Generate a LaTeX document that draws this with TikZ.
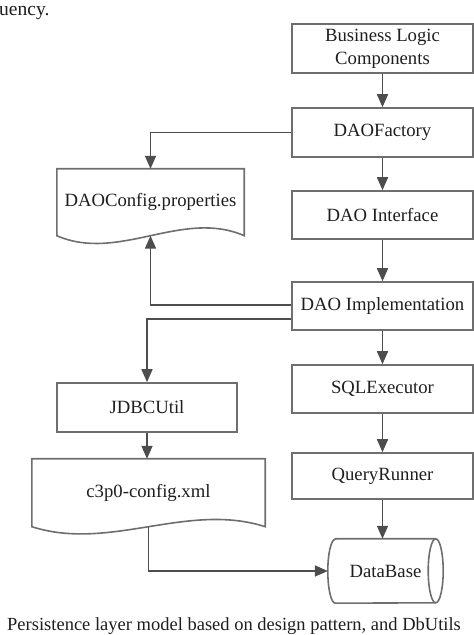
\documentclass[tikz,border=0pt]{standalone}
\usepackage{fontspec}
\setmainfont{LiberationSerif}[Extension=.ttf, UprightFont=*-Regular, BoldFont=*-Bold, ItalicFont=*-Italic]
\usetikzlibrary{arrows.meta}
\definecolor{boxline}{HTML}{6E6E6E}
\definecolor{arrowc}{HTML}{4D4D4D}
\definecolor{txt}{HTML}{1E1E1E}
\tikzset{
  box/.style={draw=boxline, line width=1.6pt, rectangle, minimum width=181pt, minimum height=48pt, inner sep=0pt, align=center, text=txt, font=\rmfamily\fontsize{18.7}{23}\selectfont},
  docnode/.style={rectangle, inner sep=0pt, align=center, text=txt, font=\rmfamily\fontsize{18.7}{23}\selectfont},
  outline/.style={draw=boxline, line width=1.6pt, line join=miter},
  conn/.style={draw=arrowc, line width=1.6pt, -{Triangle[length=13pt,width=11pt]}},
  plaintext/.style={inner sep=0pt, text=txt}
}
\begin{document}
\begin{tikzpicture}[x=1pt,y=1pt]
\useasboundingbox (0,0) rectangle (474,635);
% stray text of the surrounding page
\node[plaintext, anchor=base west, font=\rmfamily\fontsize{19.5}{22}\selectfont] (top) at (-1,619) {uency.};
\node[plaintext, anchor=base west, font=\rmfamily\fontsize{18.5}{22}\selectfont] (cap) at (7,5) {Persistence layer model based on design pattern, and DbUtils};
% right column
\node[box, minimum height=49pt] (biz) at (382.5,586.5) {Business Logic\\Components};
\node[box, minimum height=49pt] (fac) at (382.5,502.5) {DAOFactory};
\node[box] (intf) at (382.5,420) {DAO Interface};
\node[box] (impl) at (382.5,329) {DAO Implementation};
\node[box] (sql) at (382.5,246) {SQLExecutor};
\node[box, minimum height=46pt] (qr) at (382.5,159) {QueryRunner};
% database cylinder
\node[docnode, minimum width=115pt, minimum height=64pt] (db) at (385.5,64) {DataBase};
\draw[outline] ([xshift=7.5pt]db.north west) -- ([xshift=-7.5pt]db.north east)
  arc[start angle=90,end angle=-90,x radius=7.5pt,y radius=32pt]
  -- ([xshift=7.5pt]db.south west)
  arc[start angle=270,end angle=90,x radius=7.5pt,y radius=32pt] -- cycle;
\draw[outline] ([xshift=-7.5pt]db.north east) arc[start angle=90,end angle=270,x radius=7.5pt,y radius=32pt];
% left column
\node[docnode, minimum width=187pt, minimum height=66.5pt] (cfg) at (150.5,432.75) {DAOConfig.properties};
\draw[outline] (cfg.south west) -- (cfg.north west) -- (cfg.north east) -- (cfg.south east)
  .. controls ([xshift=-62pt,yshift=27pt]cfg.south east) and ([xshift=62pt,yshift=-27pt]cfg.south west) .. (cfg.south west) -- cycle;
\node[box, minimum width=180pt, minimum height=49pt] (jdbc) at (147,227.5) {JDBCUtil};
\node[docnode, minimum width=233pt, minimum height=67.5pt] (c3p) at (148.5,142.25) {c3p0-config.xml};
\draw[outline] (c3p.south west) -- (c3p.north west) -- (c3p.north east) -- (c3p.south east)
  .. controls ([xshift=-78pt,yshift=25pt]c3p.south east) and ([xshift=78pt,yshift=-25pt]c3p.south west) .. (c3p.south west) -- cycle;
% connectors
\draw[conn] (biz.south) -- (fac.north);
\draw[conn] (fac.south) -- (intf.north);
\draw[conn] (intf.south) -- (impl.north);
\draw[conn] (impl.south) -- (sql.north);
\draw[conn] (sql.south) -- (qr.north);
\draw[conn] (qr.south) -- (qr.south |- db.north);
\draw[conn] (fac.west) -| (cfg.north);
\draw[conn] ([yshift=1pt]impl.west) -| (cfg.south);
\draw[conn] ([yshift=-13pt]impl.west) -| (jdbc.north);
\draw[conn] (jdbc.south) -- (jdbc.south |- c3p.north);
\draw[conn] (c3p.south) |- (db.west);
\end{tikzpicture}
\end{document}
